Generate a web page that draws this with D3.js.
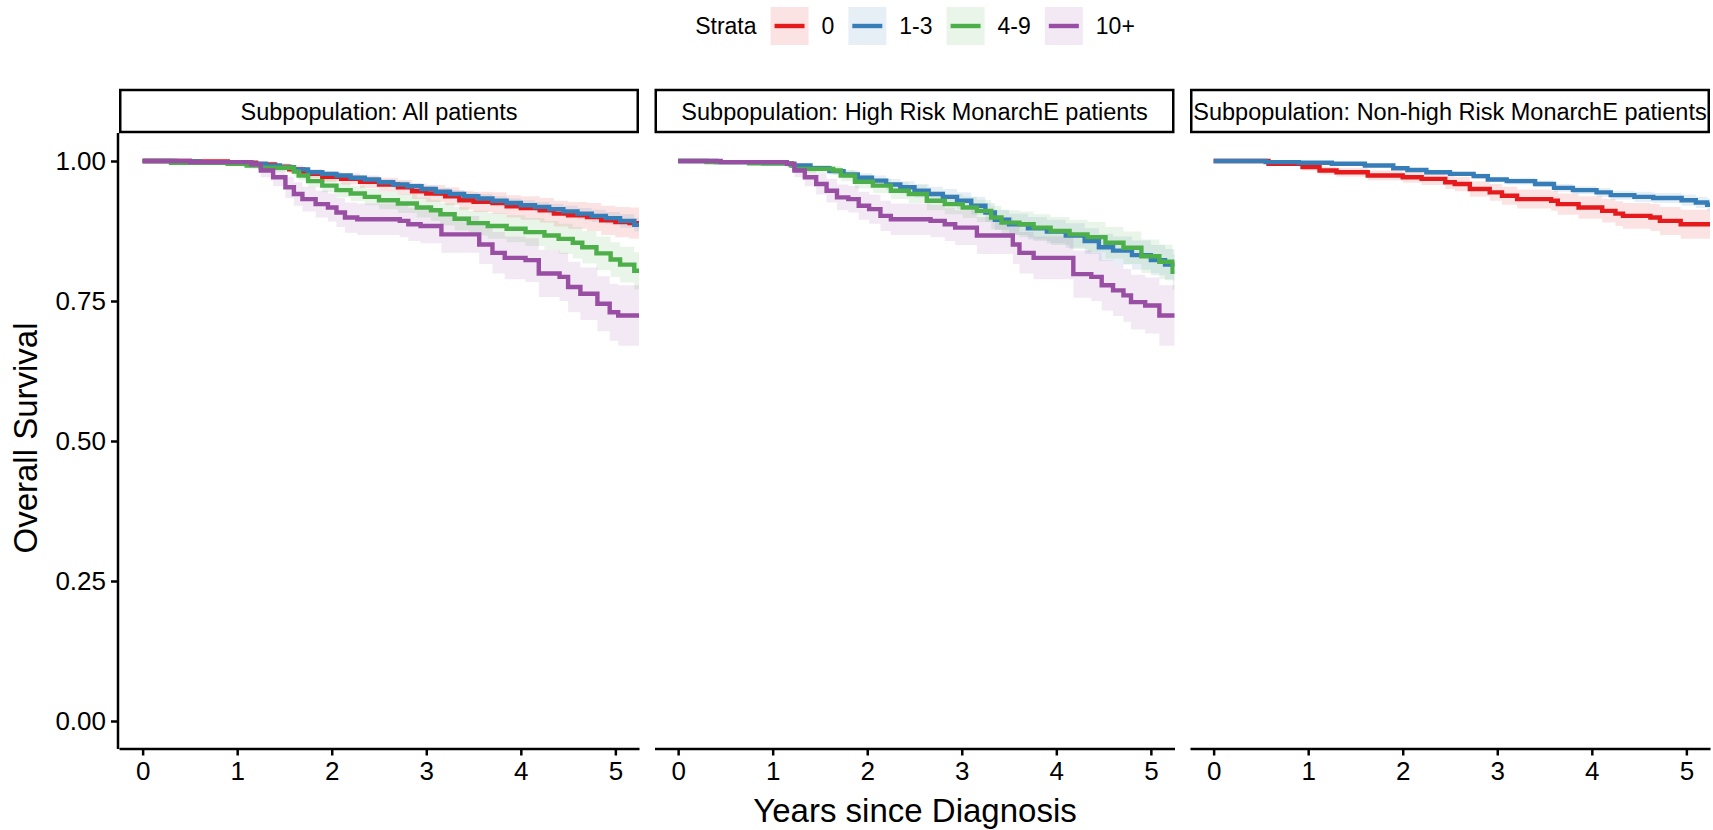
<!DOCTYPE html>
<html>
<head>
<meta charset="utf-8">
<script src="https://cdn.jsdelivr.net/npm/d3@7"></script>
<style>
  body { margin: 0; background: #fff; }
  svg { display: block; font-family: "Liberation Sans", Arial, sans-serif; }
</style>
</head>
<body>
<svg id="chart" width="1713" height="830"></svg>
<script>
const strata = ['0', '1-3', '4-9', '10+'];
const strataColors = ['#E41A1C', '#377EB8', '#4DAF4A', '#984EA3'];
const panelTitles = [
    'Subpopulation: All patients',
    'Subpopulation: High Risk MonarchE patients',
    'Subpopulation: Non-high Risk MonarchE patients'
];
const xTicks = [0, 1, 2, 3, 4, 5];
const yTicks = [0, 0.25, 0.5, 0.75, 1];

// each row: [years, survival, lower, upper]
const allPatients0 = [
    [0, 1, 1, 1], [0.5, 0.999, 0.997, 1], [0.9, 0.997, 0.993, 1], [1.2, 0.994, 0.989, 0.999],
    [1.4, 0.99, 0.984, 0.996], [1.55, 0.985, 0.978, 0.992], [1.7, 0.977, 0.969, 0.985],
    [1.9, 0.972, 0.963, 0.981], [2.1, 0.968, 0.958, 0.978], [2.3, 0.963, 0.952, 0.974],
    [2.5, 0.958, 0.946, 0.97], [2.7, 0.953, 0.94, 0.966], [2.85, 0.946, 0.932, 0.96],
    [3.0, 0.942, 0.927, 0.957], [3.2, 0.937, 0.921, 0.953], [3.35, 0.93, 0.913, 0.947],
    [3.5, 0.927, 0.909, 0.945], [3.7, 0.925, 0.906, 0.944], [3.85, 0.919, 0.899, 0.939],
    [4.0, 0.916, 0.895, 0.937], [4.2, 0.912, 0.89, 0.934], [4.35, 0.906, 0.883, 0.929],
    [4.5, 0.903, 0.879, 0.927], [4.7, 0.9, 0.875, 0.925], [4.85, 0.894, 0.868, 0.92],
    [5.0, 0.891, 0.864, 0.918], [5.15, 0.889, 0.861, 0.917]
];
const allPatients13 = [
    [0, 1, 1, 1], [0.35, 0.999, 0.998, 1], [0.6, 0.998, 0.996, 1], [0.9, 0.997, 0.995, 0.999],
    [1.15, 0.995, 0.992, 0.998], [1.3, 0.992, 0.989, 0.995], [1.45, 0.989, 0.985, 0.993],
    [1.6, 0.985, 0.981, 0.989], [1.75, 0.98, 0.976, 0.985], [1.9, 0.977, 0.972, 0.982],
    [2.05, 0.974, 0.969, 0.979], [2.2, 0.97, 0.965, 0.975], [2.35, 0.967, 0.961, 0.972],
    [2.5, 0.962, 0.956, 0.968], [2.65, 0.958, 0.952, 0.964], [2.8, 0.955, 0.949, 0.961],
    [2.95, 0.95, 0.943, 0.956], [3.1, 0.945, 0.938, 0.952], [3.25, 0.941, 0.934, 0.948],
    [3.4, 0.937, 0.929, 0.944], [3.55, 0.933, 0.925, 0.941], [3.7, 0.929, 0.921, 0.937],
    [3.85, 0.925, 0.916, 0.933], [4.0, 0.921, 0.912, 0.93], [4.15, 0.918, 0.909, 0.927],
    [4.3, 0.914, 0.904, 0.923], [4.45, 0.91, 0.9, 0.92], [4.6, 0.906, 0.896, 0.916],
    [4.75, 0.902, 0.891, 0.913], [4.9, 0.898, 0.887, 0.909], [5.05, 0.893, 0.881, 0.905],
    [5.2, 0.886, 0.874, 0.898]
];
const allPatients49 = [
    [0, 1, 1, 1], [0.3, 0.997, 0.993, 1], [0.9, 0.995, 0.99, 1], [1.1, 0.992, 0.986, 0.998],
    [1.25, 0.988, 0.981, 0.995], [1.6, 0.981, 0.973, 0.989], [1.65, 0.974, 0.965, 0.983],
    [1.75, 0.964, 0.953, 0.975], [1.9, 0.956, 0.944, 0.968], [2.05, 0.948, 0.935, 0.961],
    [2.2, 0.942, 0.928, 0.956], [2.35, 0.936, 0.921, 0.951], [2.5, 0.93, 0.914, 0.946],
    [2.7, 0.924, 0.907, 0.941], [2.9, 0.917, 0.899, 0.935], [3.05, 0.912, 0.893, 0.931],
    [3.15, 0.905, 0.885, 0.925], [3.3, 0.897, 0.876, 0.918], [3.45, 0.889, 0.867, 0.911],
    [3.65, 0.884, 0.861, 0.907], [3.85, 0.879, 0.855, 0.903], [4.05, 0.873, 0.848, 0.898],
    [4.25, 0.867, 0.841, 0.893], [4.4, 0.861, 0.834, 0.888], [4.55, 0.854, 0.826, 0.882],
    [4.65, 0.846, 0.817, 0.875], [4.8, 0.835, 0.805, 0.865], [4.95, 0.824, 0.793, 0.855],
    [5.05, 0.815, 0.783, 0.847], [5.2, 0.804, 0.771, 0.837]
];
const allPatients10 = [
    [0, 1, 1, 1], [0.5, 0.998, 0.994, 1], [1.15, 0.994, 0.987, 1], [1.25, 0.983, 0.971, 0.995],
    [1.38, 0.971, 0.955, 0.987], [1.51, 0.953, 0.934, 0.972], [1.6, 0.941, 0.92, 0.962],
    [1.69, 0.932, 0.91, 0.954], [1.83, 0.923, 0.899, 0.947], [1.96, 0.917, 0.892, 0.942],
    [2.05, 0.908, 0.882, 0.934], [2.14, 0.899, 0.872, 0.926], [2.27, 0.896, 0.868, 0.924],
    [2.72, 0.893, 0.864, 0.922], [2.81, 0.887, 0.857, 0.917], [2.94, 0.884, 0.853, 0.915],
    [3.16, 0.869, 0.836, 0.902], [3.56, 0.851, 0.816, 0.886], [3.7, 0.836, 0.799, 0.873],
    [3.83, 0.827, 0.789, 0.865], [4.05, 0.823, 0.784, 0.862], [4.19, 0.799, 0.757, 0.841],
    [4.41, 0.793, 0.75, 0.836], [4.5, 0.775, 0.73, 0.82], [4.63, 0.763, 0.716, 0.81],
    [4.81, 0.745, 0.696, 0.794], [4.94, 0.73, 0.679, 0.781], [5.03, 0.724, 0.67, 0.778]
];
const highRisk13 = [
    [0, 1, 1, 1], [0.4, 0.998, 0.996, 1], [0.9, 0.996, 0.993, 0.999], [1.2, 0.992, 0.988, 0.996],
    [1.4, 0.987, 0.982, 0.992], [1.6, 0.982, 0.976, 0.988], [1.75, 0.976, 0.969, 0.983],
    [1.9, 0.97, 0.962, 0.978], [2.05, 0.965, 0.956, 0.974], [2.2, 0.958, 0.948, 0.968],
    [2.35, 0.953, 0.942, 0.964], [2.5, 0.947, 0.935, 0.959], [2.65, 0.941, 0.928, 0.954],
    [2.8, 0.936, 0.922, 0.95], [2.95, 0.929, 0.914, 0.944], [3.1, 0.92, 0.904, 0.936],
    [3.25, 0.908, 0.891, 0.925], [3.35, 0.895, 0.877, 0.913], [3.5, 0.887, 0.868, 0.906],
    [3.7, 0.88, 0.86, 0.9], [3.9, 0.874, 0.853, 0.895], [4.1, 0.867, 0.845, 0.889],
    [4.3, 0.857, 0.834, 0.88], [4.45, 0.846, 0.822, 0.87], [4.6, 0.84, 0.815, 0.865],
    [4.8, 0.832, 0.806, 0.858], [5.0, 0.823, 0.796, 0.85], [5.15, 0.815, 0.787, 0.843]
];
const highRisk49 = [
    [0, 1, 1, 1], [0.3, 0.998, 0.995, 1], [0.75, 0.996, 0.992, 1], [1.19, 0.993, 0.988, 0.998],
    [1.23, 0.986, 0.979, 0.993], [1.64, 0.983, 0.975, 0.991], [1.72, 0.974, 0.964, 0.984],
    [1.87, 0.963, 0.951, 0.975], [2.06, 0.956, 0.943, 0.969], [2.25, 0.947, 0.932, 0.962],
    [2.44, 0.941, 0.925, 0.957], [2.63, 0.929, 0.912, 0.946], [2.82, 0.923, 0.905, 0.941],
    [3.01, 0.917, 0.898, 0.936], [3.16, 0.911, 0.891, 0.931], [3.31, 0.899, 0.878, 0.92],
    [3.42, 0.89, 0.868, 0.912], [3.61, 0.887, 0.864, 0.91], [3.76, 0.881, 0.857, 0.905],
    [3.94, 0.875, 0.85, 0.9], [4.14, 0.869, 0.843, 0.895], [4.33, 0.864, 0.837, 0.891],
    [4.52, 0.854, 0.826, 0.882], [4.71, 0.845, 0.816, 0.874], [4.9, 0.83, 0.8, 0.86],
    [5.09, 0.82, 0.789, 0.851], [5.23, 0.802, 0.77, 0.834]
];
const highRisk10 = [
    [0, 1, 1, 1], [0.45, 0.998, 0.994, 1], [1.15, 0.995, 0.988, 1], [1.23, 0.983, 0.971, 0.995],
    [1.34, 0.971, 0.955, 0.987], [1.46, 0.959, 0.94, 0.978], [1.57, 0.947, 0.926, 0.968],
    [1.68, 0.935, 0.912, 0.958], [1.8, 0.932, 0.908, 0.956], [1.91, 0.92, 0.895, 0.945],
    [2.02, 0.914, 0.888, 0.94], [2.14, 0.902, 0.875, 0.929], [2.25, 0.896, 0.868, 0.924],
    [2.67, 0.893, 0.864, 0.922], [2.82, 0.887, 0.857, 0.917], [2.93, 0.881, 0.85, 0.912],
    [3.16, 0.867, 0.834, 0.9], [3.54, 0.851, 0.816, 0.886], [3.61, 0.836, 0.799, 0.873],
    [3.76, 0.827, 0.789, 0.865], [4.18, 0.798, 0.756, 0.84], [4.37, 0.793, 0.75, 0.836],
    [4.48, 0.778, 0.733, 0.823], [4.6, 0.769, 0.723, 0.815], [4.71, 0.76, 0.713, 0.807],
    [4.79, 0.748, 0.699, 0.797], [4.94, 0.742, 0.692, 0.792], [5.09, 0.724, 0.67, 0.778]
];
const nonHighRisk0 = [
    [0, 1, 1, 1], [0.58, 0.995, 0.991, 0.999], [0.94, 0.989, 0.983, 0.995], [1.12, 0.983, 0.976, 0.99],
    [1.3, 0.98, 0.972, 0.988], [1.63, 0.974, 0.965, 0.983], [2.0, 0.971, 0.961, 0.981],
    [2.2, 0.968, 0.957, 0.979], [2.45, 0.962, 0.95, 0.974], [2.55, 0.959, 0.946, 0.972],
    [2.71, 0.95, 0.936, 0.964], [2.92, 0.944, 0.929, 0.959], [3.05, 0.938, 0.922, 0.954],
    [3.21, 0.932, 0.915, 0.949], [3.57, 0.929, 0.911, 0.947], [3.64, 0.923, 0.904, 0.942],
    [3.86, 0.917, 0.897, 0.937], [4.11, 0.911, 0.89, 0.932], [4.25, 0.906, 0.884, 0.928],
    [4.33, 0.902, 0.879, 0.925], [4.62, 0.899, 0.875, 0.923], [4.72, 0.893, 0.868, 0.918],
    [4.94, 0.887, 0.861, 0.913]
];
const nonHighRisk13 = [
    [0, 1, 1, 1], [0.55, 0.998, 0.997, 0.999], [0.9, 0.997, 0.995, 0.999], [1.25, 0.995, 0.993, 0.997],
    [1.6, 0.992, 0.99, 0.994], [1.9, 0.987, 0.984, 0.99], [2.05, 0.984, 0.981, 0.987],
    [2.25, 0.98, 0.976, 0.984], [2.5, 0.977, 0.973, 0.981], [2.75, 0.973, 0.968, 0.978],
    [2.9, 0.967, 0.962, 0.972], [3.1, 0.964, 0.958, 0.97], [3.4, 0.959, 0.953, 0.965],
    [3.6, 0.952, 0.945, 0.959], [3.8, 0.948, 0.941, 0.955], [4.05, 0.944, 0.936, 0.952],
    [4.2, 0.939, 0.931, 0.947], [4.45, 0.936, 0.927, 0.945], [4.65, 0.934, 0.925, 0.943],
    [4.95, 0.93, 0.92, 0.94], [5.1, 0.926, 0.916, 0.936], [5.22, 0.922, 0.911, 0.933]
];

const panels = [
    { title: panelTitles[0], curves: { '0': allPatients0, '1-3': allPatients13, '4-9': allPatients49, '10+': allPatients10 } },
    { title: panelTitles[1], curves: { '1-3': highRisk13, '4-9': highRisk49, '10+': highRisk10 } },
    { title: panelTitles[2], curves: { '0': nonHighRisk0, '1-3': nonHighRisk13 } }
];

const svg = d3.select('#chart');
const panelLefts = [119, 654.5, 1190];
const panelW = 520;
const stripTop = 90, plotTop = 133, plotBottom = 749;
const ink = '#000';
const lineW = 4.4;

const color = d3.scaleOrdinal().domain(strata).range(strataColors);
const y = d3.scaleLinear().domain([-0.05, 1.05]).range([plotBottom, plotTop]);

panels.forEach((p, i) => {
    const left = panelLefts[i];
    const x = d3.scaleLinear().domain([-0.25, 5.25]).range([left, left + panelW]);
    const g = svg.append('g');

    g.append('clipPath').attr('id', 'clip' + i)
        .append('rect')
        .attr('x', left).attr('y', plotTop)
        .attr('width', panelW).attr('height', plotBottom - plotTop);

    const plot = g.append('g').attr('clip-path', `url(#clip${i})`);

    // step the last value out past the panel edge
    const series = strata.filter(s => p.curves[s]).map(s => {
        const d = p.curves[s].slice();
        const last = d[d.length - 1];
        d.push([5.4, last[1], last[2], last[3]]);
        return { s, d };
    });

    const band = d3.area().curve(d3.curveStepAfter)
        .x(d => x(d[0])).y0(d => y(d[2])).y1(d => y(d[3]));
    const line = d3.line().curve(d3.curveStepAfter)
        .x(d => x(d[0])).y(d => y(d[1]));

    plot.selectAll('path.band').data(series).join('path')
        .attr('class', 'band')
        .attr('d', d => band(d.d))
        .attr('fill', d => color(d.s))
        .attr('fill-opacity', 0.12);

    plot.selectAll('path.km').data(series).join('path')
        .attr('class', 'km')
        .attr('d', d => line(d.d))
        .attr('fill', 'none')
        .attr('stroke', d => color(d.s))
        .attr('stroke-width', lineW);

    // strip
    g.append('rect')
        .attr('x', left + 1.25).attr('y', stripTop)
        .attr('width', panelW - 2.5).attr('height', plotTop - stripTop - 1)
        .attr('fill', '#fff').attr('stroke', ink).attr('stroke-width', 2.5);
    g.append('text')
        .attr('x', left + panelW / 2).attr('y', (stripTop + plotTop) / 2)
        .attr('dy', '0.35em')
        .attr('text-anchor', 'middle')
        .style('font-size', '23.5px')
        .text(p.title);

    // x axis
    const xAxis = g.append('g').attr('transform', `translate(0,${plotBottom - 0.5})`)
        .call(d3.axisBottom(x).tickValues(xTicks).tickFormat(d3.format('d')).tickSize(7).tickPadding(6).tickSizeOuter(0));
    xAxis.select('.domain').attr('stroke-width', 2.5).attr('stroke', ink);
    xAxis.selectAll('.tick line').attr('stroke-width', 2.5).attr('stroke', ink);
    xAxis.selectAll('.tick text').style('font-size', '26px').attr('fill', ink);
    xAxis.attr('font-family', null);

    if (i === 0) {
        const yAxis = g.append('g').attr('transform', `translate(${left - 1},0)`)
            .call(d3.axisLeft(y).tickValues(yTicks).tickFormat(d3.format('.2f')).tickSize(7).tickPadding(5).tickSizeOuter(0));
        yAxis.select('.domain').attr('stroke-width', 2.5).attr('stroke', ink)
            .attr('d', `M0,${plotTop}V${plotBottom}`);
        yAxis.selectAll('.tick line').attr('stroke-width', 2.5).attr('stroke', ink);
        yAxis.selectAll('.tick text').style('font-size', '26px').attr('fill', ink);
        yAxis.attr('font-family', null);
    }
});

// axis titles
svg.append('text')
    .attr('x', 915).attr('y', 822)
    .attr('text-anchor', 'middle')
    .style('font-size', '33px')
    .text('Years since Diagnosis');
svg.append('text')
    .attr('transform', 'translate(37,438) rotate(-90)')
    .attr('text-anchor', 'middle')
    .style('font-size', '33px')
    .text('Overall Survival');

// legend
const legend = svg.append('g');
const keySize = 38, keyY = 7;
const legendFont = '23px';
let cx = 0;
const title = legend.append('text').attr('x', 0).attr('y', keyY + keySize / 2).attr('dy', '0.35em')
    .style('font-size', legendFont).text('Strata');
cx += title.node().getComputedTextLength() + 14;
strata.forEach(s => {
    legend.append('rect')
        .attr('x', cx).attr('y', keyY).attr('width', keySize).attr('height', keySize)
        .attr('fill', color(s)).attr('fill-opacity', 0.12);
    legend.append('line')
        .attr('x1', cx + 4).attr('x2', cx + keySize - 4)
        .attr('y1', keyY + keySize / 2).attr('y2', keyY + keySize / 2)
        .attr('stroke', color(s)).attr('stroke-width', lineW);
    cx += keySize + 13;
    const t = legend.append('text').attr('x', cx).attr('y', keyY + keySize / 2).attr('dy', '0.35em')
        .style('font-size', legendFont).text(s);
    cx += t.node().getComputedTextLength() + 14;
});
legend.attr('transform', `translate(${915 - (cx - 14) / 2},0)`);
</script>
</body>
</html>
